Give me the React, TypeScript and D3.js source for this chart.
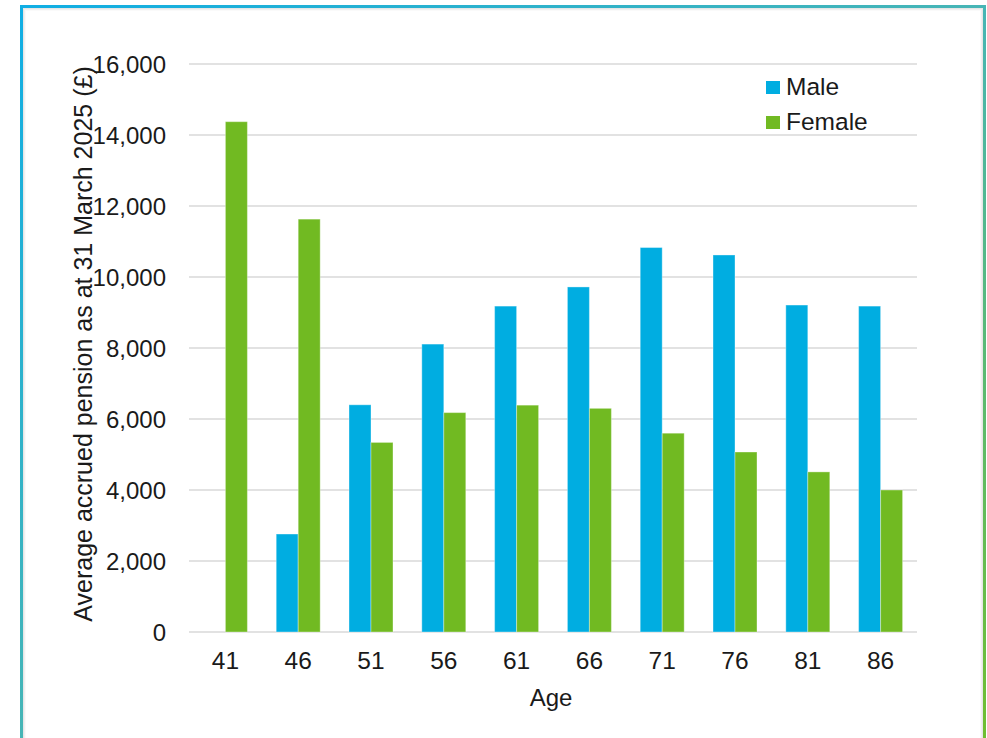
import { useEffect, useRef } from "react";
import * as d3 from "d3";

const ages = ["41", "46", "51", "56", "61", "66", "71", "76", "81", "86"];
const maleValues = [0, 2760, 6400, 8110, 9180, 9720, 10830, 10620, 9210, 9180];
const femaleValues = [14375, 11630, 5340, 6180, 6390, 6300, 5600, 5070, 4510, 4000];
const yTicks = [0, 2000, 4000, 6000, 8000, 10000, 12000, 14000, 16000];
const seriesNames = ["Male", "Female"];
const seriesColors = ["#00ADE1", "#71BA22"];

export default function App() {
  const ref = useRef<HTMLDivElement>(null);

  const width = 987;
  const height = 738;
  const margin = { top: 64, right: 70, bottom: 106, left: 189 };
  const innerW = width - margin.left - margin.right;
  const innerH = height - margin.top - margin.bottom;

  useEffect(() => {
    d3.select(ref.current).selectAll("*").remove();

    const root = d3
      .select(ref.current)
      .append("svg")
      .attr("width", width)
      .attr("height", height)
      .style("display", "block")
      .style("font-family", "Arial, 'Liberation Sans', sans-serif");

    // frame gradient, cyan top-left to green bottom-right
    const defs = root.append("defs");
    const grad = defs
      .append("linearGradient")
      .attr("id", "frame-grad")
      .attr("x1", 0)
      .attr("y1", 0)
      .attr("x2", 1)
      .attr("y2", 1);
    grad.append("stop").attr("offset", "0%").attr("stop-color", "#10AEE4");
    grad.append("stop").attr("offset", "50%").attr("stop-color", "#47B5B5");
    grad.append("stop").attr("offset", "100%").attr("stop-color", "#70BE30");

    root.append("rect").attr("width", width).attr("height", height).attr("fill", "#fff");

    // soft inner shadow next to the frame
    [0.06, 0.04, 0.02].forEach((o, i) => {
      root
        .append("rect")
        .attr("x", 23 + i)
        .attr("y", 8 + i)
        .attr("width", 960 - 2 * i)
        .attr("height", 760)
        .attr("fill", "none")
        .attr("stroke", `rgba(0,0,0,${o})`)
        .attr("stroke-width", 2);
    });

    root
      .append("rect")
      .attr("x", 21.5)
      .attr("y", 6.5)
      .attr("width", 963)
      .attr("height", 734)
      .attr("fill", "none")
      .attr("stroke", "url(#frame-grad)")
      .attr("stroke-width", 3);

    const svg = root
      .append("g")
      .attr("transform", "translate(" + margin.left + "," + margin.top + ")");

    const x0 = d3.scaleBand().domain(ages).range([0, innerW]).paddingInner(0.396).paddingOuter(0.198);
    const x1 = d3.scaleBand().domain(seriesNames).range([0, x0.bandwidth()]);
    const y = d3.scaleLinear().domain([0, 16000]).range([innerH, 0]);

    // gridlines
    svg
      .selectAll(".grid")
      .data(yTicks)
      .enter()
      .append("line")
      .attr("x1", 0)
      .attr("x2", innerW)
      .attr("y1", (d) => y(d))
      .attr("y2", (d) => y(d))
      .attr("stroke", "#E2E2E2")
      .attr("stroke-width", 2);

    // y tick labels
    svg
      .selectAll(".ytick")
      .data(yTicks)
      .enter()
      .append("text")
      .attr("x", -23)
      .attr("y", (d) => y(d))
      .attr("dy", "0.36em")
      .attr("text-anchor", "end")
      .attr("font-size", 24)
      .attr("fill", "#1a1a1a")
      .text((d) => d3.format(",")(d));

    // bars
    const groups = svg
      .selectAll(".age")
      .data(ages)
      .enter()
      .append("g")
      .attr("transform", (d) => "translate(" + x0(d) + ",0)");

    groups
      .selectAll("rect")
      .data((d, i) => [
        { key: "Male", value: maleValues[i], color: seriesColors[0] },
        { key: "Female", value: femaleValues[i], color: seriesColors[1] },
      ])
      .enter()
      .filter((d) => d.value > 0)
      .append("rect")
      .attr("x", (d) => x1(d.key) as number)
      .attr("y", (d) => y(d.value))
      .attr("width", x1.bandwidth())
      .attr("height", (d) => innerH - y(d.value))
      .attr("fill", (d) => d.color)
      .attr("stroke", "rgba(255,255,255,0.35)")
      .attr("stroke-width", 1);

    // x tick labels
    svg
      .selectAll(".xtick")
      .data(ages)
      .enter()
      .append("text")
      .attr("x", (d) => (x0(d) as number) + x0.bandwidth() / 2)
      .attr("y", innerH + 37)
      .attr("text-anchor", "middle")
      .attr("font-size", 24.5)
      .attr("fill", "#1a1a1a")
      .text((d) => d);

    // axis titles
    svg
      .append("text")
      .attr("x", innerW / 2 - 2)
      .attr("y", innerH + 74)
      .attr("text-anchor", "middle")
      .attr("font-size", 24)
      .attr("fill", "#1a1a1a")
      .text("Age");

    root
      .append("text")
      .attr("transform", "translate(92,344) rotate(-90)")
      .attr("text-anchor", "middle")
      .attr("font-size", 25)
      .attr("fill", "#1a1a1a")
      .text("Average accrued pension as at 31 March 2025 (£)");

    // legend
    const legend = root
      .selectAll(".legend")
      .data(seriesNames)
      .enter()
      .append("g")
      .attr("transform", (d, i) => "translate(766," + (81 + i * 35) + ")");
    legend
      .append("rect")
      .attr("width", 14)
      .attr("height", 13)
      .attr("fill", (d, i) => seriesColors[i]);
    legend
      .append("text")
      .attr("x", 20)
      .attr("y", 13.5)
      .attr("font-size", 24.5)
      .attr("fill", "#1a1a1a")
      .text((d) => d);
  }, []);

  return (
    <div
      ref={ref}
      style={{ position: "absolute", left: 0, top: 0, width: width, height: height, overflow: "hidden" }}
    ></div>
  );
}
